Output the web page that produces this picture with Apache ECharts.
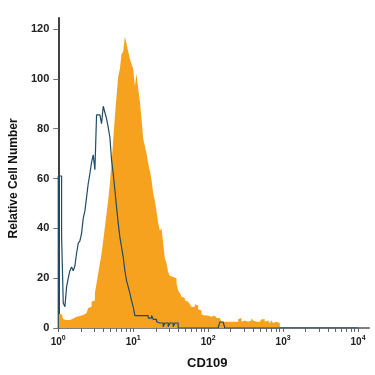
<!DOCTYPE html>
<html>
<head>
<meta charset="utf-8">
<script src="https://cdn.jsdelivr.net/npm/echarts@6/dist/echarts.min.js"></script>
<style>
html,body{margin:0;padding:0;background:#fff;}
#chart{width:375px;height:375px;}
</style>
</head>
<body>
<div id="chart"></div>
<script>
// Histogram bins: equal width on a log10 scale, starting at 10^0
const binsPerDecade = 45;
const decadeExponents = [0, 1, 2, 3, 4];
const minorTickMultipliers = [2, 3, 4, 5, 6, 7, 8, 9];
const yTickValues = [0, 20, 40, 60, 80, 100, 120];
const xAxisTitle = 'CD109';
const yAxisTitle = 'Relative Cell Number';

// Stained sample (orange filled histogram), counts per bin
const cd109Counts = [
  5.6, 5.6, 5, 3.5, 3.2, 3.2, 3.2, 3.5, 3.8, 4.5,
  4.5, 4.5, 4.8, 5, 5.2, 6, 6, 6.5, 8, 8.5,
  10.5, 11, 14, 18, 22, 26, 30, 35, 40.5, 46,
  51.5, 58, 66, 75.5, 85, 93, 101, 104, 110, 111,
  117, 114, 111, 108, 106, 104, 97, 102, 96, 91,
  84, 76, 73, 70, 66, 63, 59.5, 54, 51, 47,
  42, 39, 40, 34, 28, 26, 22.5, 21, 20.5, 20,
  20, 18, 15, 14, 12.5, 12, 11, 10.5, 10, 9.5,
  8.5, 8.5, 9.5, 9, 7.5, 7, 5.5, 5, 5, 5,
  4.5, 4.5, 4.5, 5, 4.5, 4, 4, 3.5, 2.5, 2.5,
  3, 2.5, 3, 2.5, 2.5, 2.5, 3, 2.5, 3.5, 4,
  2.5, 3, 2.5, 2.5, 2, 3, 4, 3, 2.5, 3,
  2.5, 3, 3.5, 3.5, 2.5, 3, 2.5, 2, 3, 2,
  2.5, 2, 2, 0
];

// Isotype control (dark outline histogram), counts per bin
const isotypeCounts = [
  61, 61, 37, 10, 8.5, 16.5, 20, 23, 24.5, 23,
  25, 30, 34, 35, 38, 44, 47, 52.5, 58, 62,
  66.5, 69.5, 63.5, 85.5, 85.5, 85.5, 82, 89, 86.5, 84,
  80.5, 76.5, 67.5, 62, 55.5, 48.5, 42, 36.5, 32.5, 28.5,
  23, 19, 16.5, 14, 11, 8.5, 5, 5, 5, 5,
  5, 5, 5, 5, 4, 4, 5, 3.5, 3.5, 2.5,
  2, 2, 2, 0.5, 2, 2, 0.5, 2, 2, 0.5,
  2, 2, 0, 0, 0, 0, 0, 0, 0, 0,
  0, 0, 0, 0, 0, 0, 0, 0, 0, 0,
  0, 0, 0, 0, 0, 0, 0, 2.4, 2.4, 2.4,
  0
];
const isotypeRangeEndExponent = 4;

function toSteps(counts) {
  return counts.map((c, i) => [i / binsPerDecade, c]);
}

const orangeData = toSteps(cd109Counts);
const blueData = [[0, 0]].concat(toSteps(isotypeCounts));
blueData.push([isotypeRangeEndExponent, 0]);

const xTickValues = [];
decadeExponents.forEach((e, idx) => {
  xTickValues.push(e);
  if (idx < decadeExponents.length - 1) {
    minorTickMultipliers.forEach(m => xTickValues.push(e + Math.log10(m)));
  }
});

const font = "'Liberation Sans', Arial, sans-serif";
const chart = echarts.init(document.getElementById('chart'), null, {renderer: 'canvas'});
chart.setOption({
  animation: false,
  backgroundColor: '#ffffff',
  grid: {left: 56, right: 5.7, top: 17.8, bottom: 47, containLabel: false},
  xAxis: {
    type: 'value',
    min: 0,
    max: 4.15,
    name: xAxisTitle,
    nameLocation: 'middle',
    nameGap: 29,
    nameTextStyle: {fontFamily: font, fontWeight: 'bold', fontSize: 13, color: '#111', padding: [0, 13, 0, 0]},
    splitLine: {show: false},
    axisLine: {show: true, lineStyle: {color: '#555', width: 1.5}},
    axisTick: {show: true, customValues: xTickValues, length: 4, lineStyle: {color: '#666', width: 1}},
    axisLabel: {
      customValues: decadeExponents,
      margin: 7,
      formatter: v => '{b|10}{s|' + Math.round(v) + '}',
      rich: {
        b: {fontFamily: font, fontWeight: 'bold', fontSize: 10, color: '#222', lineHeight: 14},
        s: {fontFamily: font, fontWeight: 'bold', fontSize: 7, color: '#222', lineHeight: 7, verticalAlign: 'top'}
      }
    }
  },
  yAxis: {
    type: 'value',
    min: 0,
    max: 124.5,
    name: yAxisTitle,
    nameLocation: 'middle',
    nameGap: 37,
    nameTextStyle: {fontFamily: font, fontWeight: 'bold', fontSize: 12, color: '#111', padding: [0, 11, 0, 0]},
    splitLine: {show: false},
    axisLine: {show: true, lineStyle: {color: '#000', width: 1.5}},
    axisTick: {show: true, customValues: yTickValues, length: 5, lineStyle: {color: '#777', width: 1}},
    axisLabel: {customValues: yTickValues, margin: 9, fontFamily: font, fontWeight: 'bold', fontSize: 11, color: '#222'}
  },
  series: [
    {
      name: 'CD109',
      type: 'line',
      step: 'end',
      data: orangeData,
      showSymbol: false,
      symbol: 'none',
      lineStyle: {width: 0, color: '#f7a21e'},
      areaStyle: {color: '#f7a21e', opacity: 1},
      z: 2
    },
    {
      name: 'Isotype',
      type: 'line',
      step: 'end',
      data: blueData,
      showSymbol: false,
      symbol: 'none',
      lineStyle: {width: 1.2, color: '#1f4b68'},
      z: 3
    }
  ]
});
</script>
</body>
</html>
